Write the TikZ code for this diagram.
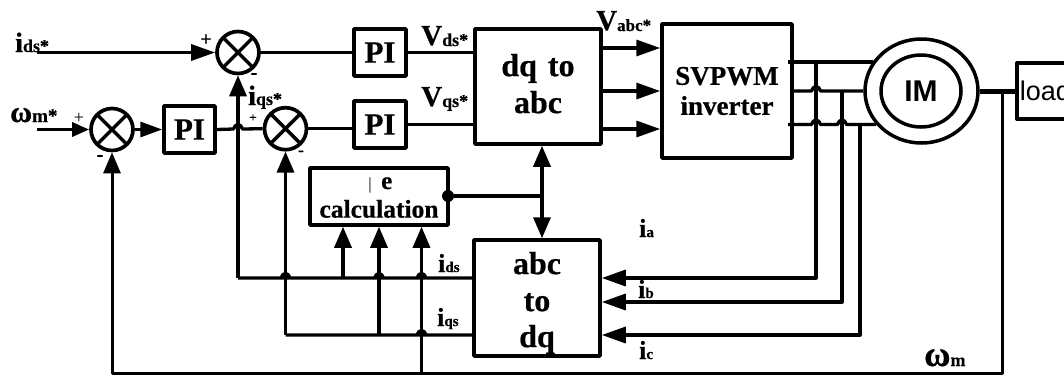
\documentclass[tikz,border=0pt]{standalone}
\usepackage{fontspec}
\setmainfont{Liberation Serif}[BoldFeatures={FakeBold=0.6}]
\newfontfamily\sansf{Liberation Sans}
\usetikzlibrary{arrows.meta,calc,shapes.geometric}
\newcommand{\sz}[1]{\fontsize{#1}{#1}\selectfont}
\newcommand{\hopat}[1]{-- ($(#1)+(-4.5,0)$) .. controls ($(#1)+(-3,-6)$) and ($(#1)+(3,-6)$) .. ($(#1)+(4.5,0)$)}
\tikzset{
  wire/.style={line width=3.3pt,line join=round,draw=black},
  box/.style={draw=black,line width=3.5pt,line join=round,rectangle,inner sep=0pt,align=center,font=\bfseries},
  sumj/.style={draw=black,line width=3.7pt,circle,minimum size=42pt,inner sep=0pt,
    path picture={\draw[line width=3.5pt] (path picture bounding box.north west)--(path picture bounding box.south east)
      (path picture bounding box.north east)--(path picture bounding box.south west);}},
  lbl/.style={anchor=base west,inner sep=0pt,font=\bfseries},
  tipH/.style={-{Triangle[length=24pt,width=16pt]}},
  tipV/.style={-{Triangle[length=21pt,width=17pt]}},
  tipS/.style={-{Triangle[length=17pt,width=14pt]}},
  tipD/.style={{Triangle[length=21pt,width=17pt]}-{Triangle[length=21pt,width=17pt]}},
}
\begin{document}
\begin{tikzpicture}[x=1pt,y=-1pt]
\useasboundingbox (0,0) rectangle (1064,375);
\clip (0,0) rectangle (1064,375);
% summing junctions
\node[sumj] (s1) at (238,52.5) {};
\node[sumj] (s2) at (112,129.5) {};
\node[sumj] (s3) at (285.5,128.7) {};
% blocks
\node[box,minimum width=52pt,minimum height=47pt,font=\bfseries\sz{31}] (pi1) at (380,52.5) {PI};
\node[box,minimum width=52pt,minimum height=47pt,font=\bfseries\sz{31}] (pi2) at (380,124.5) {PI};
\node[box,minimum width=51pt,minimum height=47pt,font=\bfseries\sz{31}] (pi3) at (189.5,129.5) {PI};
\node[box,minimum width=126pt,minimum height=115pt,font=\bfseries\sz{32}] (dq) at (538,86.5) {dq\hspace{3pt} to\\[5pt]abc\rule[-6pt]{0pt}{0pt}};
\node[box,minimum width=130pt,minimum height=134pt,font=\bfseries\sz{27}] (inv) at (727,91) {SVPWM\\[3pt]inverter};
\node[box,minimum width=138pt,minimum height=57pt,font=\bfseries\sz{25.5}] (calc) at (379,196.5) {\sz{14}\rule{0pt}{18pt}\\[-1pt]calculation};
\node[box,minimum width=126pt,minimum height=116pt,font=\bfseries\sz{32}] (abc) at (537,298) {\rule{0pt}{32pt}abc\\[5pt]to\\[4pt]dq};
\node[box,minimum width=120pt,minimum height=56pt,anchor=west,text width=114pt,align=left,inner xsep=3pt,font=\sansf\sz{27}] (load) at (1015,91) {load};
% machine
\node[draw=black,line width=3.5pt,ellipse,minimum width=113pt,minimum height=104pt,inner sep=0pt] (imo) at (921.5,91) {};
\node[draw=black,line width=3.5pt,ellipse,minimum width=80pt,minimum height=72pt,inner sep=0pt,font=\sansf\bfseries\sz{30}] (im) at (921,91) {IM};
% named points
\coordinate (idin) at (37,52.5);
\coordinate (win) at (37,129.5);
\coordinate (pi3out) at (238,129);
\coordinate (x238) at (238,278);
\coordinate (x285a) at (285.5,278);
\coordinate (x343) at (343,278);
\coordinate (x379a) at (379,278);
\coordinate (x421a) at (421.5,278);
\coordinate (x285) at (285.5,335);
\coordinate (x379) at (379,335);
\coordinate (x421b) at (421.5,335);
\coordinate (x421) at (421.5,373);
\coordinate (bl) at (112,373);
\coordinate (br) at (1002,373);
\coordinate (sh) at (1002,91);
\coordinate (a1) at (788,62);
\coordinate (a3) at (788,124.5);
\coordinate (ma) at (imo.149);
\coordinate (mc) at (imo.216);
\coordinate (va) at (816,62);
\coordinate (vb) at (842,91);
\coordinate (vc) at (860,124.5);
\coordinate (hab) at (816,91);
\coordinate (hac) at (816,124.5);
\coordinate (hbc) at (842,124.5);
\coordinate (ca) at (816,278);
\coordinate (cb) at (842,302);
\coordinate (cc) at (860,335);
\coordinate (oy1) at (0,48);
\coordinate (oy2) at (0,91);
\coordinate (oy3) at (0,129);
\coordinate (dbl) at (542,196);
\node[circle,fill=black,minimum size=12pt,inner sep=0pt] (dot) at (448,196) {};
% forward path
\draw[wire,tipH] (idin) -- (s1.west);
\draw[wire] (s1.east) -- (pi1.west);
\draw[wire] (pi1.east) -- (pi1.east -| dq.west);
\draw[wire,tipS] (win) -- (s2.west);
\draw[wire,-{Triangle[length=22pt,width=15pt]}] (s2.east) -- (pi3.west);
\draw[wire] (pi3.east) \hopat{pi3out} -- (s3.west);
\draw[wire] (s3.east) -- (s3.east -| pi2.west);
\draw[wire] (pi2.east) -- (pi2.east -| dq.west);
\draw[wire,tipH] (oy1 -| dq.east) -- (oy1 -| inv.west);
\draw[wire,tipH] (oy2 -| dq.east) -- (oy2 -| inv.west);
\draw[wire,tipH] (oy3 -| dq.east) -- (oy3 -| inv.west);
% stator lines
\draw[wire] (a1) -- (a1 -| ma);
\draw[wire] (inv.east) \hopat{hab} -- (imo.west);
\draw[wire] (a3) \hopat{hac} \hopat{hbc} -- (a3 -| mc);
\draw[line width=5pt] (imo.east) -- (load.west);
% current feedback
\draw[wire,tipH] (va) -- (ca) -- (ca -| abc.east);
\draw[wire,tipH] (vb) -- (cb) -- (cb -| abc.east);
\draw[wire,tipH] (vc) -- (cc) -- (cc -| abc.east);
% dq currents
\draw[wire] (abc.west |- x238) \hopat{x421a} \hopat{x379a} \hopat{x285a} -- (x238);
\draw[wire,tipV] (x238) -- (s1.south);
\draw[wire] (abc.west |- x285) \hopat{x421b} -- (x285);
\draw[wire,tipV] (x285) -- (s3.south);
\draw[wire,tipV] (x343) -- (x343 |- calc.south);
\draw[wire,tipV] (x379) -- (x379 |- calc.south);
\draw[wire,tipV] (x421) -- (x421 |- calc.south);
% speed feedback
\draw[wire,line width=3pt,tipV] (sh) -- (br) -- (bl) -- (s2.south);
% torque signal
\draw[wire] (dot) -- (dbl);
\draw[wire,tipD] (dbl |- dq.south) -- (dbl |- abc.north);
% labels
\node[lbl] (tids) at (15,52) {\sz{28}i\sz{18}ds*};
\node[lbl] (twm) at (10,122) {\sz{30}ω\sz{19}m*};
\node[lbl] (tiqs) at (248,105) {\sz{28}i\sz{18}qs*};
\node[lbl] (tvd) at (421,45) {\sz{29}V\sz{18}\raisebox{-1pt}{ds*}};
\node[lbl] (tvq) at (421,106) {\sz{29}V\sz{18}\raisebox{-1pt}{qs*}};
\node[lbl] (tva) at (596,30) {\sz{29}V\sz{17}\raisebox{-1pt}{abc*}};
\node[lbl] (tid) at (438,272) {\sz{26}i\sz{15}ds};
\node[lbl] (tiq) at (437,326) {\sz{26}i\sz{15}qs};
\node[lbl] (tia) at (639,237) {\sz{26}i\sz{15}a};
\node[lbl] (tib) at (638,298) {\sz{26}i\sz{15}b};
\node[lbl] (tic) at (639,359) {\sz{26}i\sz{15}c};
\node[lbl] (twm2) at (924,366) {\sz{36}ω\sz{18}m};
\node[anchor=base,inner sep=0pt,font=\sz{17}] (tbar) at (370,189) {|};
\node[lbl] (te) at (381,189) {\sz{25}e};
\node[anchor=center,inner sep=0pt,font=\bfseries\sz{20}] (p1) at (206,40) {+};
\node[anchor=center,inner sep=0pt,font=\sz{18}] (p2) at (79,118) {+};
\node[anchor=center,inner sep=0pt,font=\bfseries\sz{13}] (p3) at (253,118) {+};
\node[anchor=center,inner sep=0pt,font=\bfseries\sz{20}] (m1) at (254,76) {-};
\node[anchor=center,inner sep=0pt,font=\bfseries\sz{20}] (m2) at (100,158) {-};
\node[anchor=center,inner sep=0pt,font=\bfseries\sz{17}] (m3) at (301,153) {-};
\end{tikzpicture}
\end{document}
